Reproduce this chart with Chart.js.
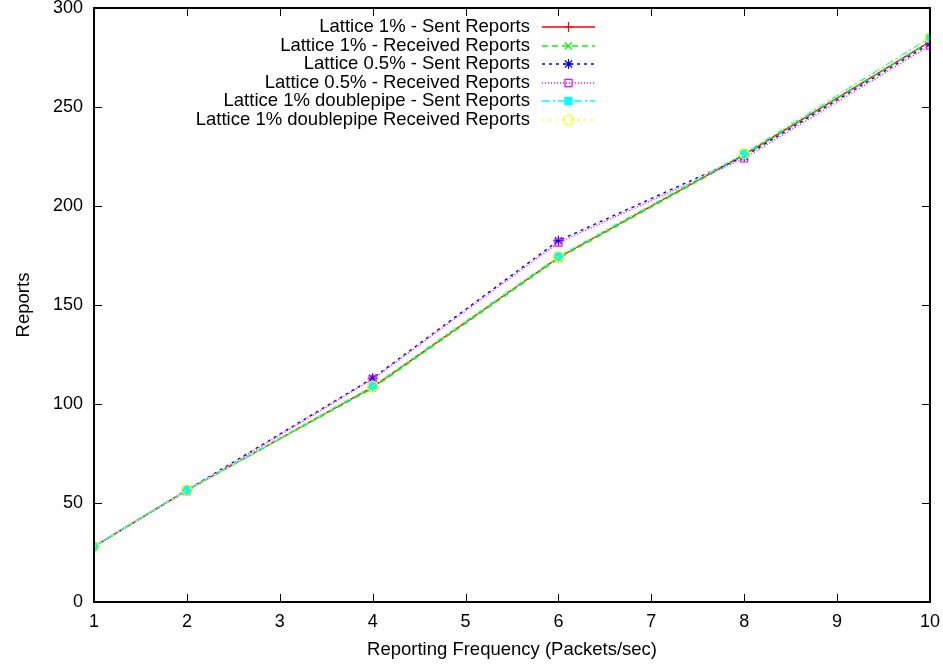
<!DOCTYPE html>
<html>
<head>
<meta charset="utf-8">
<script src="https://cdn.jsdelivr.net/npm/chart.js@4.4.0/dist/chart.umd.min.js"></script>
<style>
  html, body { margin: 0; padding: 0; background: #fff; }
  #wrap { width: 943px; height: 666px; }
</style>
</head>
<body>
<div id="wrap"><canvas id="c" width="943" height="666"></canvas></div>
<script>
// values
const freqs = [1, 2, 4, 6, 8, 10];
const sent1 = [28, 56.5, 108.5, 174, 226, 283];
const recv1 = [28, 56.5, 108, 173.5, 225.5, 283];
const sent05 = [28, 56.5, 113, 182.5, 225, 282];
const recv05 = [28, 56, 112.5, 181.5, 224, 281];
const sentDouble = [28, 56.5, 109, 174.5, 226.5, 285];
const recvDouble = [28, 56.5, 109, 174.5, 226.5, 285];
const labels = [
  'Lattice 1% - Sent Reports',
  'Lattice 1% - Received Reports',
  'Lattice 0.5% - Sent Reports',
  'Lattice 0.5% - Received Reports',
  'Lattice 1% doublepipe - Sent Reports',
  'Lattice 1% doublepipe Received Reports'
];
const yTicks = [0, 50, 100, 150, 200, 250, 300];
const xTicks = [1, 2, 3, 4, 5, 6, 7, 8, 9, 10];

const FONT = '"Liberation Sans", Arial, sans-serif';
const series = [sent1, recv1, sent05, recv05, sentDouble, recvDouble];
const colors = ['#ff0000', '#00ff00', '#0000ff', '#ff00ff', '#00ffff', '#ffff00'];
const dashes = [[], [6, 4], [3, 4], [1, 2], [8, 3, 2, 3], [2, 5, 2, 5]];
const points = ['cross', 'crossRot', 'star', 'rect', 'rect', 'circle'];
const fills = [false, false, false, false, true, false];
const RADIUS = 5;

const datasets = series.map((vals, i) => ({
  label: labels[i],
  data: freqs.map((f, j) => ({ x: f, y: vals[j] })),
  borderColor: colors[i],
  backgroundColor: fills[i] ? colors[i] : 'rgba(0,0,0,0)',
  borderWidth: 1.4,
  borderDash: dashes[i],
  pointStyle: points[i],
  pointRadius: RADIUS,
  pointBorderWidth: 1.2,
  pointBorderColor: colors[i],
  pointBackgroundColor: fills[i] ? colors[i] : 'rgba(0,0,0,0)',
  tension: 0,
  order: 6 - i
}));

// gnuplot-like frame with inward mirrored ticks
const framePlugin = {
  id: 'frame',
  afterDatasetsDraw(chart) {
    const { ctx, chartArea: a, scales } = chart;
    ctx.save();
    ctx.strokeStyle = '#000';
    ctx.lineWidth = 1;
    ctx.setLineDash([]);
    ctx.beginPath();
    const len = 8;
    yTicks.forEach(v => {
      const y = Math.round(scales.y.getPixelForValue(v)) + 0.5;
      ctx.moveTo(a.left, y); ctx.lineTo(a.left + len, y);
      ctx.moveTo(a.right, y); ctx.lineTo(a.right - len, y);
    });
    xTicks.forEach(v => {
      const x = Math.round(scales.x.getPixelForValue(v)) + 0.5;
      ctx.moveTo(x, a.bottom); ctx.lineTo(x, a.bottom - len);
      ctx.moveTo(x, a.top); ctx.lineTo(x, a.top + len);
    });
    ctx.stroke();
    ctx.lineWidth = 2;
    ctx.strokeRect(a.left, a.top, a.right - a.left, a.bottom - a.top);
    ctx.restore();
  }
};

// key in the gnuplot layout: text right-aligned, sample to its right
const keyPlugin = {
  id: 'key',
  afterDraw(chart) {
    const { ctx } = chart;
    const textRight = 530, lineL = 542, lineR = 595, top = 27, step = 18.6;
    ctx.save();
    ctx.font = '18.5px ' + FONT;
    ctx.textAlign = 'right';
    ctx.textBaseline = 'middle';
    chart.data.datasets.forEach((ds, i) => {
      const y = top + i * step;
      const ly = Math.round(y);
      ctx.fillStyle = '#000';
      ctx.fillText(ds.label, textRight, y);
      ctx.strokeStyle = ds.borderColor;
      ctx.lineWidth = 1.5;
      ctx.setLineDash(ds.borderDash);
      ctx.beginPath();
      ctx.moveTo(lineL, ly);
      ctx.lineTo(lineR, ly);
      ctx.stroke();
      ctx.setLineDash([]);
      ctx.fillStyle = ds.pointBackgroundColor;
      ctx.strokeStyle = ds.borderColor;
      ctx.lineWidth = 1.2;
      Chart.helpers.drawPoint(ctx, {
        pointStyle: ds.pointStyle, radius: RADIUS, borderWidth: 1.2
      }, (lineL + lineR) / 2, ly);
    });
    ctx.restore();
  }
};

new Chart(document.getElementById('c'), {
  type: 'line',
  data: { datasets },
  options: {
    responsive: false,
    animation: false,
    layout: { padding: { top: 8, right: 13, left: 0, bottom: 0 } },
    plugins: { legend: { display: false }, tooltip: { enabled: false } },
    scales: {
      x: {
        type: 'linear', min: 1, max: 10,
        afterBuildTicks: s => { s.ticks = xTicks.map(v => ({ value: v })); },
        afterFit: s => { s.height = 64; s.paddingLeft = 0; s.paddingRight = 0; },
        grid: { display: false, drawTicks: false },
        border: { display: false },
        ticks: { color: '#000', font: { family: FONT, size: 18 }, padding: 9 },
        title: { display: true, text: 'Reporting Frequency (Packets/sec)', color: '#000',
                 font: { family: FONT, size: 18.5 }, padding: { top: 2, bottom: 5 } }
      },
      y: {
        type: 'linear', min: 0, max: 300,
        afterBuildTicks: s => { s.ticks = yTicks.map(v => ({ value: v })); },
        afterFit: s => { s.width = 94; s.paddingTop = 0; s.paddingBottom = 0; },
        grid: { display: false, drawTicks: false },
        border: { display: false },
        ticks: { color: '#000', font: { family: FONT, size: 18 }, padding: 11 },
        title: { display: true, text: 'Reports', color: '#000',
                 font: { family: FONT, size: 18.5 }, padding: { top: 13, bottom: 0 } }
      }
    }
  },
  plugins: [framePlugin, keyPlugin]
});
</script>
</body>
</html>
